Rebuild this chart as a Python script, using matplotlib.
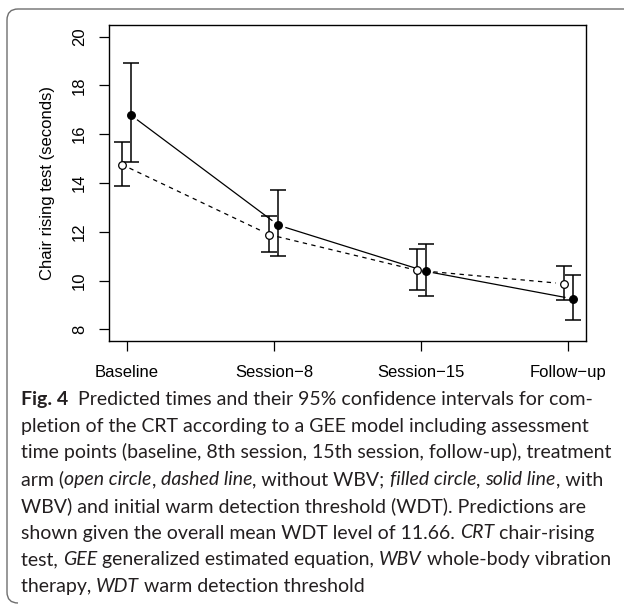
import numpy as np
import matplotlib
matplotlib.use('Agg')
import matplotlib.pyplot as plt
from matplotlib.path import Path
from matplotlib.patches import PathPatch

# ---- data
time_labels = ['Baseline', 'Session\u22128', 'Session\u221215', 'Follow\u2212up']
no_wbv_mean = [14.75, 11.88, 10.42, 9.87]
no_wbv_low = [13.87, 11.15, 9.61, 9.21]
no_wbv_high = [15.68, 12.64, 11.28, 10.60]
wbv_mean = [16.78, 12.27, 10.38, 9.25]
wbv_low = [14.86, 10.99, 9.37, 8.37]
wbv_high = [18.93, 13.70, 11.50, 10.21]
y_ticks = [8, 10, 12, 14, 16, 18, 20]

W, H, DPI = 624, 607, 100
fig = plt.figure(figsize=(W / DPI, H / DPI), dpi=DPI)
plt.rcParams['font.family'] = ['Liberation Sans', 'DejaVu Sans']

ax = fig.add_axes([109 / W, 1 - 341 / H, (586 - 109) / W, (341 - 25) / H])
ax.set_xlim(0.88, 4.12)
ax.set_ylim(7.52, 20.48)

x = np.arange(1, len(time_labels) + 1)
shift = 0.03


def gapped_line(xs, ys, gap_px, **kw):
    # R type="b": segments stop short of each point
    pts = ax.transData.transform(np.column_stack([xs, ys]))
    for i in range(len(pts) - 1):
        p0, p1 = pts[i], pts[i + 1]
        d = p1 - p0
        u = d / np.hypot(*d)
        a = ax.transData.inverted().transform([p0 + u * gap_px, p1 - u * gap_px])
        ax.plot(a[:, 0], a[:, 1], color='black', **kw)


gapped_line(x - shift, no_wbv_mean, 8, lw=0.9, dashes=(3.5, 3.5))
gapped_line(x + shift, wbv_mean, 8, lw=0.9)

for xs, m, lo, hi, face in [(x - shift, no_wbv_mean, no_wbv_low, no_wbv_high, 'white'),
                            (x + shift, wbv_mean, wbv_low, wbv_high, 'black')]:
    m = np.array(m)
    err = [m - np.array(lo), np.array(hi) - m]
    ax.errorbar(xs, m, yerr=err, fmt='none', ecolor='black', elinewidth=1.1,
                capsize=5.5, capthick=1.1, zorder=3)
    ax.plot(xs, m, 'o', ms=5.5, mfc=face, mec='black', mew=0.9, ls='none', zorder=4)

ax.set_xticks(x)
ax.set_xticklabels(time_labels, fontsize=12)
ax.set_yticks(y_ticks)
ax.set_yticklabels([str(t) for t in y_ticks], fontsize=12, rotation=90, va='center')
ax.tick_params(axis='both', direction='out', length=7.5, width=0.9, colors='black')
ax.tick_params(axis='x', pad=10)
ax.tick_params(axis='y', pad=8.5)
ax.set_ylabel('Chair rising test (seconds)', fontsize=12, labelpad=12)
for s in ax.spines.values():
    s.set_linewidth(1.0)

# ---- frame around figure + caption
def fx(px):
    return px / W


def fy(py):
    return 1 - py / H


r = 11
verts = [(fx(W), fy(9)), (fx(7 + r), fy(9)), (fx(7), fy(9)), (fx(7), fy(9 + r)),
         (fx(7), fy(H - 4 - r)), (fx(7), fy(H - 4)), (fx(7 + r), fy(H - 4))]
codes = [Path.MOVETO, Path.LINETO, Path.CURVE3, Path.CURVE3, Path.LINETO, Path.CURVE3, Path.CURVE3]
fig.patches.append(PathPatch(Path(verts, codes), transform=fig.transFigure,
                             fill=False, edgecolor='#6e6e6e', lw=1.0))

cap_font = ['Lato', 'DejaVu Sans']
cap_size = 14.0
caption = [
    [('Fig. 4', 'normal', 'bold'), ('  Predicted times and their 95% confidence intervals for com-', 'normal', 'normal')],
    [('pletion of the CRT according to a GEE model including assessment', 'normal', 'normal')],
    [('time points (baseline, 8th session, 15th session, follow-up), treatment', 'normal', 'normal')],
    [('arm (', 'normal', 'normal'), ('open circle', 'italic', 'normal'), (', ', 'normal', 'normal'),
     ('dashed line', 'italic', 'normal'), (', without WBV; ', 'normal', 'normal'),
     ('filled circle', 'italic', 'normal'), (', ', 'normal', 'normal'),
     ('solid line', 'italic', 'normal'), (', with', 'normal', 'normal')],
    [('WBV) and initial warm detection threshold (WDT). Predictions are', 'normal', 'normal')],
    [('shown given the overall mean WDT level of 11.66. ', 'normal', 'normal'), ('CRT', 'italic', 'normal'),
     (' chair-rising', 'normal', 'normal')],
    [('test, ', 'normal', 'normal'), ('GEE', 'italic', 'normal'), (' generalized estimated equation, ', 'normal', 'normal'),
     ('WBV', 'italic', 'normal'), (' whole-body vibration', 'normal', 'normal')],
    [('therapy, ', 'normal', 'normal'), ('WDT', 'italic', 'normal'), (' warm detection threshold', 'normal', 'normal')],
]

renderer = fig.canvas.get_renderer()
y0 = 405
for i, line in enumerate(caption):
    xpos = 21
    for txt, style, weight in line:
        t = fig.text(fx(xpos), fy(y0 + i * 26.7), txt, fontsize=cap_size, family=cap_font,
                     style=style, weight=weight, va='baseline', ha='left', color='#231f20')
        bb = t.get_window_extent(renderer)
        xpos += bb.width

fig.savefig('out.png', dpi=DPI)
